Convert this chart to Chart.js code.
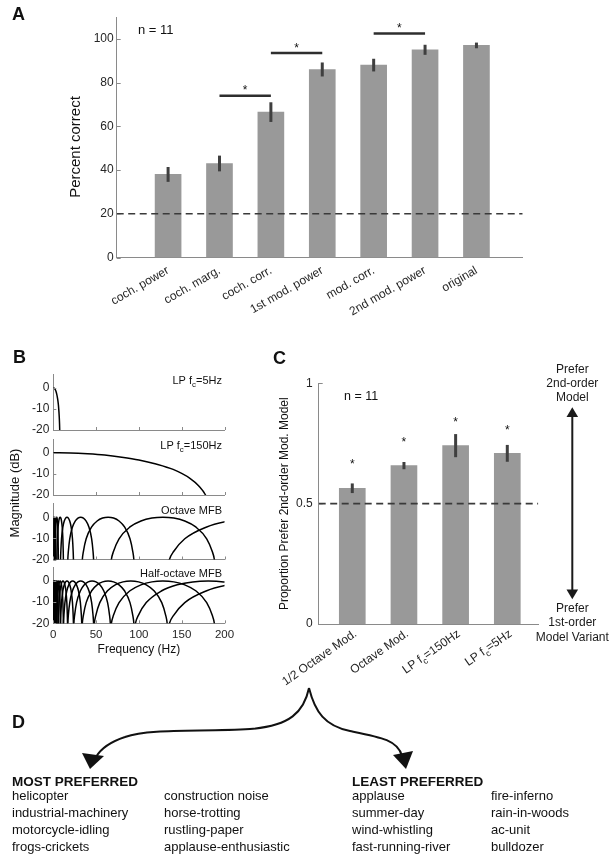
<!DOCTYPE html>
<html><head><meta charset="utf-8">
<script src="https://cdn.jsdelivr.net/npm/chart.js@4.4.1/dist/chart.umd.min.js"></script>
<style>
html,body{margin:0;padding:0;background:#fff;}
#page{position:relative;width:614px;height:859px;overflow:hidden;font-family:"Liberation Sans",Arial,Helvetica,sans-serif;color:#111;}
canvas{position:absolute;}
.pl{position:absolute;font-weight:bold;font-size:18px;line-height:18px;}
.d{position:absolute;font-size:13px;line-height:16.9px;white-space:nowrap;color:#111;}
.dh{position:absolute;font-size:13.5px;line-height:17px;font-weight:bold;white-space:nowrap;color:#111;}
svg{position:absolute;left:0;top:0;}
</style></head>
<body><div id="page">
<canvas id="cA" width="614" height="335" style="left:0;top:0"></canvas>
<canvas id="cB1" width="250" height="322" style="left:0;top:340px"></canvas>
<canvas id="cB2" width="250" height="322" style="left:0;top:340px"></canvas>
<canvas id="cB3" width="250" height="322" style="left:0;top:340px"></canvas>
<canvas id="cB4" width="250" height="322" style="left:0;top:340px"></canvas>
<canvas id="cC" width="384" height="360" style="left:230px;top:340px"></canvas>
<div class="pl" style="left:12px;top:5px">A</div>
<div class="pl" style="left:13px;top:347.5px">B</div>
<div class="pl" style="left:273px;top:348.5px">C</div>
<div class="pl" style="left:12px;top:712.5px">D</div>
<svg width="614" height="859" viewBox="0 0 614 859">
  <path d="M309,688 C304,712 290,726 250,729 C200,732 150,728 125,737 C110,742 100,750 96,757" fill="none" stroke="#111" stroke-width="2"/>
  <polygon points="90,769 82,753 104,756" fill="#111"/>
  <path d="M309,688 C315,712 325,726 350,731 C380,737 398,740 402,756" fill="none" stroke="#111" stroke-width="2"/>
  <polygon points="406,769 393,755 413,751" fill="#111"/>
</svg>
<div class="dh" style="left:12px;top:773px">MOST PREFERRED</div>
<div class="d" id="d1" style="left:12px;top:788px"></div>
<div class="d" id="d2" style="left:164px;top:788px"></div>
<div class="dh" style="left:352px;top:773px">LEAST PREFERRED</div>
<div class="d" id="d3" style="left:352px;top:788px"></div>
<div class="d" id="d4" style="left:491px;top:788px"></div>
</div>
<script>
// ---------------- DATA ----------------
// Panel A
const categoriesA   = ['coch. power','coch. marg.','coch. corr.','1st mod. power','mod. corr.','2nd mod. power','original'];
const percentCorrect = [38, 43, 66.5, 86, 88, 95, 97];
const percentErr     = [3.4, 3.6, 4.5, 3.2, 2.9, 2.3, 1.3];
const ticksA   = [0, 20, 40, 60, 80, 100];
const chanceA  = 20;
const sigFromA = [2, 3, 5];
const sigToA   = [3, 4, 6];
const sigLevelA = [74, 93.5, 102.5];
const nSubjects = 11;

// Panel B
const labelsB = ['LP f_c=5Hz', 'LP f_c=150Hz', 'Octave MFB', 'Half-octave MFB'];
const freqTicksB = [0, 50, 100, 150, 200];
const dbTicksB = [-20, -10, 0];
const lp5Freq = [0, 1, 2, 3, 4, 5, 6, 7, 7.5, 7.8];
const lp5Db   = [0, -0.2, -0.7, -1.6, -3, -5.1, -8.3, -14.2, -20, -28];
const lp150Freq = [0, 20, 40, 60, 80, 100, 120, 140, 160, 170, 178, 185];
const lp150Db   = [0, -0.1, -0.5, -1.1, -2.1, -3.4, -5.3, -7.9, -12.2, -15.7, -20.1, -27.7];
// shape of one modulation filter (offset relative to its centre frequency, dB)
const archShapeU  = [-0.49, -0.47, -0.45, -0.4, -0.3, -0.2, -0.1, 0, 0.1, 0.2, 0.3, 0.4, 0.45, 0.47, 0.49];
const archShapeDb = [-30, -20, -16.1, -10.2, -4.6, -1.8, -0.4, 0, -0.4, -1.8, -4.6, -10.2, -16.1, -20, -30];
const octaveCenters = [0.5, 1, 2, 4, 8, 16, 32, 64, 128, 256];
const halfOctaveCenters = [0.5, 0.71, 1, 1.41, 2, 2.83, 4, 5.66, 8, 11.3, 16, 22.6, 32, 45.3, 64, 90.5, 128, 181, 256];

// Panel C
const variantsC  = ['1/2 Octave Mod.', 'Octave Mod.', 'LP f_c=150Hz', 'LP f_c=5Hz'];
const propPrefer = [0.564, 0.658, 0.741, 0.709];
const propErr    = [0.02, 0.015, 0.048, 0.035];
const starLevelC = [0.674, 0.768, 0.85, 0.817];
const ticksC  = [0, 0.5, 1];
const chanceC = 0.5;

// Panel D
const mostPreferred1  = ['helicopter', 'industrial-machinery', 'motorcycle-idling', 'frogs-crickets'];
const mostPreferred2  = ['construction noise', 'horse-trotting', 'rustling-paper', 'applause-enthusiastic'];
const leastPreferred1 = ['applause', 'summer-day', 'wind-whistling', 'fast-running-river'];
const leastPreferred2 = ['fire-inferno', 'rain-in-woods', 'ac-unit', 'bulldozer'];

// ---------------- STYLE / HELPERS ----------------
const FONT = '"Liberation Sans", Arial, Helvetica, sans-serif';
const AXIS = '#8a8a8a', TXT = '#262626', BAR = '#999999', ERR = '#3f3f3f';
Chart.defaults.font.family = FONT;
Chart.defaults.color = TXT;
Chart.defaults.animation = false;

document.getElementById('d1').innerHTML = mostPreferred1.join('<br>');
document.getElementById('d2').innerHTML = mostPreferred2.join('<br>');
document.getElementById('d3').innerHTML = leastPreferred1.join('<br>');
document.getElementById('d4').innerHTML = leastPreferred2.join('<br>');

function drawSub(ctx, text, x, y, size, align, color) {
  const main = size + 'px ' + FONT, sub = (size * 0.72) + 'px ' + FONT;
  const parts = text.split('_c');
  ctx.textBaseline = 'alphabetic'; ctx.fillStyle = color;
  ctx.font = main;
  if (parts.length === 1) { ctx.textAlign = align; ctx.fillText(text, x, y); return; }
  const w1 = ctx.measureText(parts[0]).width, w3 = ctx.measureText(parts[1]).width;
  ctx.font = sub; const w2 = ctx.measureText('c').width;
  const total = w1 + w2 + w3;
  const sx = align === 'right' ? x - total : (align === 'center' ? x - total / 2 : x);
  ctx.textAlign = 'left';
  ctx.font = main; ctx.fillText(parts[0], sx, y);
  ctx.font = sub;  ctx.fillText('c', sx + w1, y + size * 0.3);
  ctx.font = main; ctx.fillText(parts[1], sx + w1 + w2, y);
}

const inTicks = {
  id: 'inTicks',
  afterDraw(chart, args, o) {
    if (!o || !o.on) return;
    const {ctx, chartArea: ca, scales: {x, y}} = chart;
    ctx.save(); ctx.strokeStyle = AXIS; ctx.lineWidth = 1; ctx.beginPath();
    (o.x || []).forEach(v => { const p = Math.round(x.getPixelForValue(v)) + 0.5; ctx.moveTo(p, ca.bottom); ctx.lineTo(p, ca.bottom - o.len); });
    (o.y || []).forEach(v => { const p = Math.round(y.getPixelForValue(v)) + 0.5; ctx.moveTo(ca.left, p); ctx.lineTo(ca.left + o.len, p); });
    ctx.stroke(); ctx.restore();
  }
};

const errorBars = {
  id: 'errorBars',
  afterDatasetsDraw(chart, args, o) {
    if (!o || !o.values) return;
    const {ctx, scales: {x, y}} = chart;
    ctx.save(); ctx.strokeStyle = ERR; ctx.lineWidth = o.width; ctx.lineCap = 'butt';
    o.values.forEach((v, i) => {
      const px = x.getPixelForValue(i + 1);
      ctx.beginPath();
      ctx.moveTo(px, y.getPixelForValue(v - o.err[i]));
      ctx.lineTo(px, y.getPixelForValue(v + o.err[i]));
      ctx.stroke();
    });
    ctx.restore();
  }
};

function star(ctx, x, yCenter, size) {
  ctx.font = size + 'px ' + FONT; ctx.textAlign = 'center'; ctx.textBaseline = 'alphabetic';
  ctx.fillStyle = '#111';
  ctx.fillText('*', x, yCenter + size * 0.56);
}

const noGrid = {display: false, drawTicks: false};
const axisBorder = {display: true, color: AXIS, width: 1};

// ---------------- PANEL A ----------------
const A_TOP = 17, A_BOTTOM = 257.5, A_LEFT = 116.7, A_RIGHT = 522.7, A_H = 335;
const sigDatasetsA = sigFromA.map((f, i) => ({
  type: 'line', data: [{x: f, y: sigLevelA[i]}, {x: sigToA[i], y: sigLevelA[i]}],
  borderColor: '#2e2e2e', borderWidth: 2.5, pointRadius: 0, order: 0
}));
const annotA = {
  id: 'annotA',
  afterDraw(chart) {
    const {ctx, scales: {x, y}} = chart;
    ctx.save();
    sigFromA.forEach((f, i) => star(ctx, x.getPixelForValue((f + sigToA[i]) / 2), y.getPixelForValue(sigLevelA[i]) - 8, 12));
    ctx.font = '13px ' + FONT; ctx.fillStyle = '#111'; ctx.textAlign = 'left'; ctx.textBaseline = 'middle';
    ctx.fillText('n = ' + nSubjects, 138, 30);
    // y-axis title
    ctx.translate(76, 147); ctx.rotate(-Math.PI / 2);
    ctx.font = '15px ' + FONT; ctx.textAlign = 'center'; ctx.textBaseline = 'middle';
    ctx.fillText('Percent correct', 0, 0);
    ctx.restore();
  }
};
new Chart(document.getElementById('cA'), {
  type: 'bar',
  data: {
    datasets: [
      {type: 'line', data: [{x: 0, y: chanceA}, {x: 7.9, y: chanceA}], borderColor: '#3a3a3a', borderWidth: 1.6,
       borderDash: [7, 4.5], pointRadius: 0, order: 0},
      ...sigDatasetsA,
      {type: 'bar', data: categoriesA.map((c, i) => ({x: i + 1, y: percentCorrect[i]})),
       backgroundColor: BAR, barThickness: 26, order: 5}
    ]
  },
  options: {
    responsive: false, animation: false, devicePixelRatio: 1,
    layout: {padding: {top: A_TOP, right: 614 - A_RIGHT, left: 0, bottom: 0}},
    plugins: {legend: {display: false}, tooltip: {enabled: false},
      errorBars: {values: percentCorrect, err: percentErr, width: 3},
      inTicks: {on: true, y: ticksA, x: [], len: 4}},
    scales: {
      x: {type: 'linear', offset: false, min: 0, max: 7.9, grid: noGrid, border: axisBorder,
        ticks: {stepSize: 1, autoSkip: false, minRotation: 30, maxRotation: 30, padding: 6, font: {size: 12},
          callback: v => (Number.isInteger(v) && v >= 1 && v <= categoriesA.length) ? categoriesA[v - 1] : ''},
        afterFit: s => { s.height = A_H - A_BOTTOM; }},
      y: {min: 0, max: 110, grid: noGrid, border: axisBorder,
        ticks: {stepSize: 20, padding: 3, font: {size: 12},
          callback: v => ticksA.includes(v) ? String(v) : ''},
        afterFit: s => { s.width = A_LEFT; }}
    }
  },
  plugins: [errorBars, inTicks, annotA]
});

// ---------------- PANEL B ----------------
const B_CT = 340, B_CW = 250, B_CH = 322, B_LEFT = 53.3, B_RIGHT = 224.5;
const B_BOTTOMS = [430, 495, 559.5, 623.3], B_HEIGHT = 56;
const lineDs = pts => ({data: pts, borderColor: '#000', borderWidth: 1.5, pointRadius: 0,
  cubicInterpolationMode: 'monotone', fill: false});
const archSet = centers => centers.map(fc => lineDs(archShapeU.map((u, i) => ({x: fc * (1 + u), y: archShapeDb[i]}))));
const datasetsB = [
  [lineDs(lp5Freq.map((f, i) => ({x: f, y: lp5Db[i]})))],
  [lineDs(lp150Freq.map((f, i) => ({x: f, y: lp150Db[i]})))],
  archSet(octaveCenters),
  archSet(halfOctaveCenters)
];
datasetsB.forEach((dsets, idx) => {
  const bottom = B_BOTTOMS[idx] - B_CT, top = bottom - B_HEIGHT;
  const showX = idx === 3;
  const labelPlugin = {
    id: 'labB' + idx,
    afterDraw(chart) {
      const ctx = chart.ctx; ctx.save();
      drawSub(ctx, labelsB[idx], 222, top + 10, 11, 'right', '#111');
      if (idx === 3) {
        ctx.translate(15, 493 - B_CT); ctx.rotate(-Math.PI / 2);
        ctx.font = '13px ' + FONT; ctx.fillStyle = '#111'; ctx.textAlign = 'center'; ctx.textBaseline = 'middle';
        ctx.fillText('Magnitude (dB)', 0, 0);
      }
      ctx.restore();
    }
  };
  new Chart(document.getElementById('cB' + (idx + 1)), {
    type: 'line',
    data: {datasets: dsets},
    options: {
      responsive: false, animation: false, devicePixelRatio: 1,
      layout: {padding: {top: top, right: B_CW - B_RIGHT, left: 0, bottom: 0}},
      plugins: {legend: {display: false}, tooltip: {enabled: false},
        inTicks: {on: true, x: freqTicksB, y: dbTicksB, len: 3}},
      scales: {
        x: {type: 'linear', min: 0, max: 200, grid: noGrid, border: axisBorder,
          ticks: {display: showX, stepSize: 50, autoSkip: false, maxRotation: 0, padding: 5, font: {size: 11.5},
            callback: v => freqTicksB.includes(v) ? String(v) : ''},
          title: {display: showX, text: 'Frequency (Hz)', font: {size: 12}, color: '#111', padding: {top: 0, bottom: 4.8}},
          afterFit: s => { s.height = B_CH - bottom; }},
        y: {min: -20, max: 6.5, grid: noGrid, border: axisBorder,
          ticks: {stepSize: 10, padding: 4, font: {size: 12}, callback: v => dbTicksB.includes(v) ? String(v) : ''},
          afterFit: s => { s.width = B_LEFT; }}
      }
    },
    plugins: [inTicks, labelPlugin]
  });
});

// ---------------- PANEL C ----------------
const C_CL = 230, C_CT = 340, C_W = 384, C_H = 360;
const C_LEFT = 318.7, C_RIGHT = 538.3, C_TOP = 383.3, C_BOTTOM = 624;
const annotC = {
  id: 'annotC',
  afterDraw(chart) {
    const {ctx, scales: {x, y}, chartArea: ca} = chart;
    ctx.save();
    starLevelC.forEach((s, i) => star(ctx, x.getPixelForValue(i + 1), y.getPixelForValue(s), 12));
    ctx.font = '12.5px ' + FONT; ctx.fillStyle = '#111'; ctx.textAlign = 'left'; ctx.textBaseline = 'middle';
    ctx.fillText('n = ' + nSubjects, 344 - C_CL, 396.7 - C_CT);
    // rotated category labels
    variantsC.forEach((t, i) => {
      ctx.save();
      ctx.translate(x.getPixelForValue(i + 1) + 3, ca.bottom + 8);
      ctx.rotate(-35 * Math.PI / 180);
      drawSub(ctx, t, 0, 4, 12, 'right', TXT);
      ctx.restore();
    });
    // right-hand preference arrow
    const ax = 572.3 - C_CL;
    ctx.fillStyle = '#1a1a1a'; ctx.textAlign = 'center'; ctx.textBaseline = 'middle'; ctx.font = '12px ' + FONT;
    ['Prefer', '2nd-order', 'Model'].forEach((t, k) => ctx.fillText(t, ax, 369.3 - C_CT + k * 14.2));
    ['Prefer', '1st-order', 'Model Variant'].forEach((t, k) => ctx.fillText(t, ax, 608.5 - C_CT + k * 14.4));
    ctx.strokeStyle = '#1a1a1a'; ctx.lineWidth = 2;
    ctx.beginPath(); ctx.moveTo(ax, 415 - C_CT); ctx.lineTo(ax, 591 - C_CT); ctx.stroke();
    ctx.beginPath(); ctx.moveTo(ax, 407.3 - C_CT); ctx.lineTo(ax - 5.8, 417 - C_CT); ctx.lineTo(ax + 5.8, 417 - C_CT); ctx.closePath(); ctx.fill();
    ctx.beginPath(); ctx.moveTo(ax, 599.3 - C_CT); ctx.lineTo(ax - 5.8, 589.5 - C_CT); ctx.lineTo(ax + 5.8, 589.5 - C_CT); ctx.closePath(); ctx.fill();
    // y-axis title
    ctx.translate(284.3 - C_CL, 503.7 - C_CT); ctx.rotate(-Math.PI / 2);
    ctx.font = '12px ' + FONT; ctx.fillStyle = '#111'; ctx.textAlign = 'center'; ctx.textBaseline = 'middle';
    ctx.fillText('Proportion Prefer 2nd-order Mod. Model', 0, 0);
    ctx.restore();
  }
};
new Chart(document.getElementById('cC'), {
  type: 'bar',
  data: {
    datasets: [
      {type: 'line', data: [{x: 0.35, y: chanceC}, {x: 4.6, y: chanceC}], borderColor: '#3a3a3a', borderWidth: 1.6,
       borderDash: [7, 4.5], pointRadius: 0, order: 0},
      {type: 'bar', data: variantsC.map((v, i) => ({x: i + 1, y: propPrefer[i]})), backgroundColor: BAR,
       barThickness: 26, order: 5}
    ]
  },
  options: {
    responsive: false, animation: false, devicePixelRatio: 1,
    layout: {padding: {top: C_TOP - C_CT, right: C_CL + C_W - C_RIGHT, left: 0, bottom: 0}},
    plugins: {legend: {display: false}, tooltip: {enabled: false},
      errorBars: {values: propPrefer, err: propErr, width: 3},
      inTicks: {on: true, y: ticksC, x: [], len: 4}},
    scales: {
      x: {type: 'linear', offset: false, min: 0.35, max: 4.6, grid: noGrid, border: axisBorder,
        ticks: {display: false}, afterFit: s => { s.height = C_H - (C_BOTTOM - C_CT); }},
      y: {min: 0, max: 1, grid: noGrid, border: axisBorder,
        ticks: {stepSize: 0.5, padding: 6, font: {size: 12}, callback: v => ticksC.includes(v) ? String(v) : ''},
        afterFit: s => { s.width = C_LEFT - C_CL; }}
    }
  },
  plugins: [errorBars, inTicks, annotC]
});
</script>
</body></html>
